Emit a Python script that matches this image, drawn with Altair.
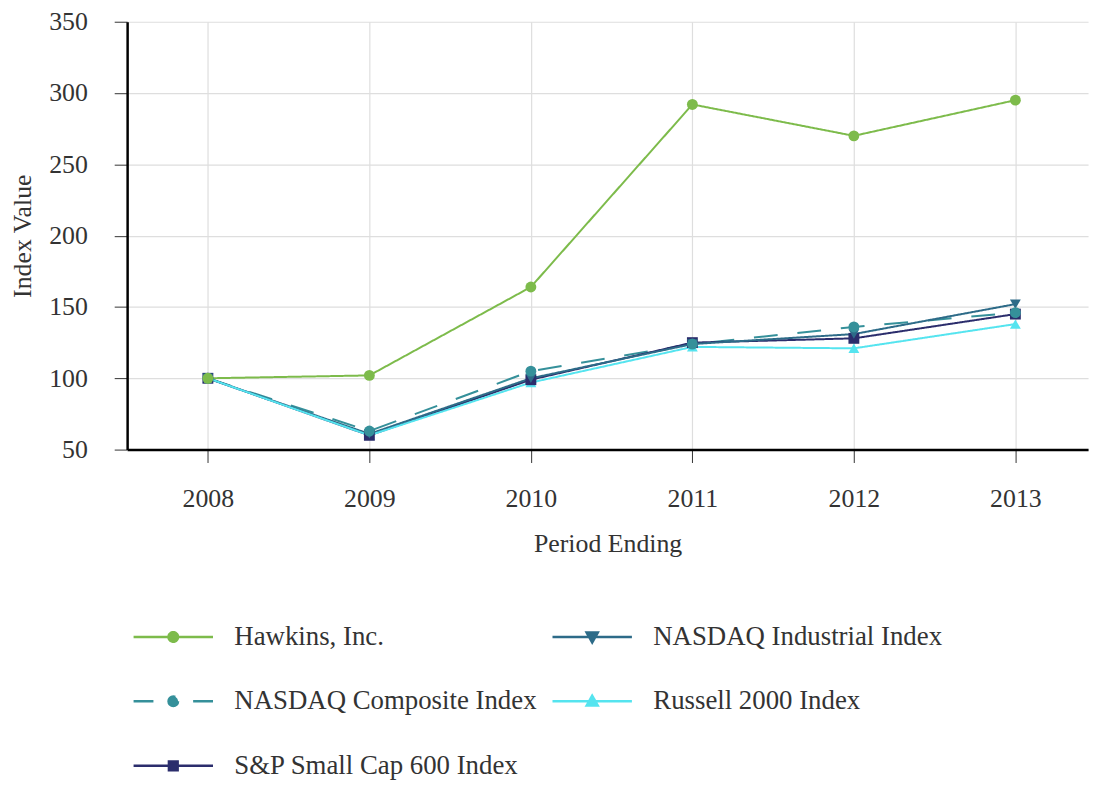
import altair as alt
import pandas as pd

years = [2008, 2009, 2010, 2011, 2012, 2013]
hawkins = [100, 102, 164, 292, 270, 295]
nasdaq_composite = [100, 63, 105, 124, 136, 146]
sp_600 = [100, 60, 99, 125, 128, 145]
nasdaq_industrial = [100, 61, 100, 124, 131, 152]
russell_2000 = [100, 60, 97, 122, 121, 138]

# legend is laid out column by column: first column H / Composite / S&P, second Industrial / Russell
series_names = ["Hawkins, Inc.", "NASDAQ Composite Index", "S&P Small Cap 600 Index",
                "NASDAQ Industrial Index", "Russell 2000 Index"]
series_values = [hawkins, nasdaq_composite, sp_600, nasdaq_industrial, russell_2000]
colors = ["#7dbb4b", "#35909a", "#2b2d6c", "#2d6b88", "#55e4ef"]
dashes = [[1, 0], [24, 20], [1, 0], [1, 0], [1, 0]]
marker_shapes = ["circle", "circle", "square", "triangle-down", "triangle-up"]
draw_order = ["Russell 2000 Index", "S&P Small Cap 600 Index", "NASDAQ Industrial Index",
              "NASDAQ Composite Index", "Hawkins, Inc."]

# legend glyphs: a line with the series marker in the middle
circ = "M0.12,0A0.12,0.12,0,1,1,-0.12,0A0.12,0.12,0,1,1,0.12,0Z"
tri_down = "M-0.14,-0.11L0.14,-0.11L0,0.14Z"
tri_up = "M-0.14,0.11L0.14,0.11L0,-0.14Z"
square = "M-0.11,-0.11L0.11,-0.11L0.11,0.11L-0.11,0.11Z"
solid = "M-1,0L1,0"
dashed = "M-1,0L-0.5,0M0.5,0L1,0"
legend_paths = [solid + circ, dashed + circ, solid + square, solid + tri_down, solid + tri_up]

rows = []
for name, vals in zip(series_names, series_values):
    for yr, v in zip(years, vals):
        rows.append({"series": name, "year": yr, "value": v})
df = pd.DataFrame(rows)

FONT = "Liberation Serif"

x = alt.X("year:Q",
          scale=alt.Scale(domain=[2007.5, 2013.45], nice=False, zero=False),
          axis=alt.Axis(values=years, format="d", title="Period Ending",
                        labelPadding=23, titlePadding=20))
y = alt.Y("value:Q",
          scale=alt.Scale(domain=[50, 350], nice=False, zero=False),
          axis=alt.Axis(values=[50, 100, 150, 200, 250, 300, 350], title="Index Value",
                        labelPadding=27, titlePadding=13))

color_scale = alt.Scale(domain=series_names, range=colors)

base = alt.Chart(df)

legend_spec = alt.Legend(
    title=None, orient="none", legendX=5, legendY=578, columns=2,
    columnPadding=10, rowPadding=10, symbolSize=6400, symbolStrokeWidth=2.5,
    symbolOpacity=1,
    labelFont=FONT, labelFontSize=27, labelColor="#333333", labelOffset=20,
    labelLimit=600, padding=0,
)

# invisible layer that only carries the legend (drawn first so its legend settings win)
legend_layer = base.mark_point(filled=True, opacity=0, strokeWidth=2.5).encode(
    x=x, y=y,
    color=alt.Color("series:N", scale=color_scale, legend=legend_spec),
    stroke=alt.Stroke("series:N", scale=alt.Scale(domain=series_names, range=colors), legend=legend_spec),
    shape=alt.Shape("series:N", scale=alt.Scale(domain=series_names, range=legend_paths), legend=legend_spec),
)

lines = base.mark_line(strokeWidth=2).encode(
    x=x, y=y,
    color=alt.Color("series:N", scale=color_scale, legend=None),
    strokeDash=alt.StrokeDash("series:N", scale=alt.Scale(domain=series_names, range=dashes), legend=None),
    order=alt.Order("year:Q"),
)

point_layers = []
for name in draw_order:
    shp = marker_shapes[series_names.index(name)]
    point_layers.append(
        base.transform_filter(alt.datum.series == name)
        .mark_point(filled=True, size=120, opacity=1, shape=shp)
        .encode(x=x, y=y, color=alt.Color("series:N", scale=color_scale, legend=None))
    )

chart = alt.layer(legend_layer, lines, *point_layers).properties(
    width=968, height=431,
    autosize=alt.AutoSizeParams(type="none"),
    padding={"left": 120, "top": 11, "right": 8, "bottom": 330},
    background="white",
).configure_view(stroke=None).configure_axis(
    labelFont=FONT, labelFontSize=26, labelColor="#333333",
    titleFont=FONT, titleFontSize=26, titleFontWeight="normal", titleColor="#333333",
    domainColor="#000000", domainWidth=2.5, tickColor="#333333", tickSize=13,
    gridColor="#dedede", gridWidth=1.2,
)

chart.save("out.html", embed_options={"renderer": "svg", "actions": False})
